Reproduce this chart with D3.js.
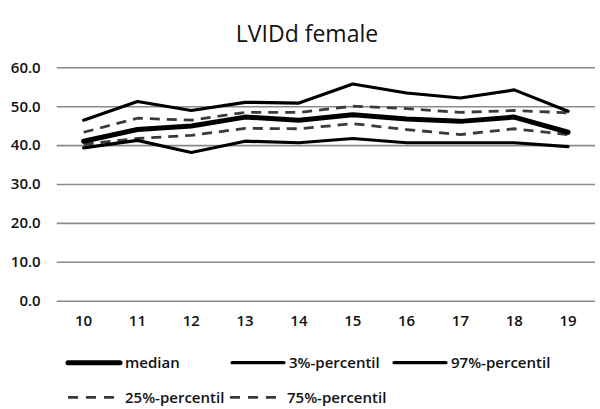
<!DOCTYPE html>
<html><head><meta charset="utf-8">
<script src="https://cdn.jsdelivr.net/npm/d3@7"></script>
<style>body{margin:0;background:#fff}svg{display:block}</style>
</head><body>
<svg id="c" width="600" height="409"></svg>
<script>
const categories = ["10","11","12","13","14","15","16","17","18","19"];
const p97 = [46.4, 51.2, 48.9, 51.0, 50.8, 55.7, 53.4, 52.1, 54.2, 48.7];
const p75 = [43.3, 46.9, 46.4, 48.4, 48.4, 50.0, 49.4, 48.4, 48.9, 48.3];
const median = [41.0, 44.0, 44.9, 47.2, 46.4, 47.8, 46.7, 46.1, 47.2, 43.3];
const p25 = [40.2, 41.7, 42.5, 44.3, 44.2, 45.5, 44.0, 42.7, 44.2, 42.7];
const p3 = [39.3, 41.2, 38.1, 41.0, 40.6, 41.7, 40.6, 40.6, 40.6, 39.6];
const yTicks = [0, 10, 20, 30, 40, 50, 60];
const title = "LVIDd female";

const svg = d3.select("#c");
const font = "'Open Sans', sans-serif";
const x = d3.scaleBand().domain(categories).range([56.7, 595]);
const y = d3.scaleLinear().domain([0, 60]).range([300.7, 67.3]);

svg.append("text").attr("x", 307).attr("y", 42).attr("text-anchor", "middle")
  .attr("font-family", font).attr("font-size", 23).attr("fill", "#111").text(title);

// grid
const yAxis = svg.append("g").attr("transform", "translate(56.7,0)")
  .call(d3.axisLeft(y).tickValues(yTicks).tickFormat(d3.format(".1f")).tickSize(-(595 - 56.7)).tickPadding(16));
yAxis.select(".domain").remove();
yAxis.selectAll(".tick line").attr("stroke", "#8a8a8a").attr("stroke-width", 1.6);
yAxis.selectAll(".tick text").attr("font-family", font).attr("font-size", 15).attr("font-weight", 600).attr("fill", "#111");

const xAxis = svg.append("g").attr("transform", "translate(0,300.7)")
  .call(d3.axisBottom(x).tickSize(0).tickPadding(15));
xAxis.select(".domain").remove();
xAxis.selectAll(".tick text").attr("font-family", font).attr("font-size", 15).attr("font-weight", 600).attr("fill", "#111");

const line = d3.line().x((d, i) => x(categories[i]) + x.bandwidth() / 2).y(d => y(d));

const series = [
  {name: "median", data: median, w: 5, color: "#000", dash: null},
  {name: "3%-percentil", data: p3, w: 3.2, color: "#000", dash: null},
  {name: "97%-percentil", data: p97, w: 3.2, color: "#000", dash: null},
  {name: "25%-percentil", data: p25, w: 2.8, color: "#3a3a3a", dash: "10,7"},
  {name: "75%-percentil", data: p75, w: 2.8, color: "#3a3a3a", dash: "10,7"}
];

[series[3], series[4], series[1], series[2], series[0]].forEach(s => {
  svg.append("path").attr("d", line(s.data)).attr("fill", "none")
    .attr("stroke", s.color).attr("stroke-width", s.w)
    .attr("stroke-dasharray", s.dash).attr("stroke-linejoin", "round").attr("stroke-linecap", s.dash ? "butt" : "round");
});

// legend
const legendPos = [[68, 362.7], [232, 362.7], [394, 362.7], [68, 397.3], [230, 397.3]];
series.forEach((s, i) => {
  const [lx, ly] = legendPos[i];
  svg.append("line").attr("x1", lx).attr("x2", lx + 52).attr("y1", ly).attr("y2", ly)
    .attr("stroke", s.color).attr("stroke-width", s.w)
    .attr("stroke-dasharray", s.dash ? "10,8" : null).attr("stroke-linecap", s.dash ? "butt" : "round");
  svg.append("text").attr("x", lx + 57).attr("y", ly).attr("dy", "0.35em")
    .attr("font-family", font).attr("font-size", 15).attr("font-weight", 600).attr("fill", "#111").text(s.name);
});
</script>
</body></html>
